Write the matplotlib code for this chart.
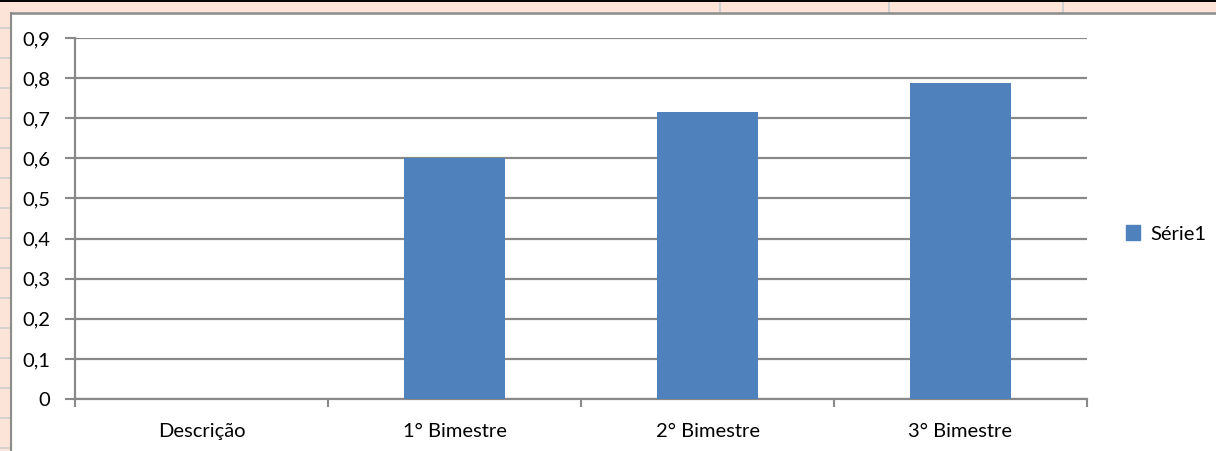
import matplotlib.pyplot as plt
from matplotlib.patches import Rectangle
from matplotlib.lines import Line2D
import numpy as np

# data
categories = ['Descrição', '1° Bimestre', '2° Bimestre', '3° Bimestre']
valores = [0, 0.60, 0.716, 0.789]
yticks = [0, 0.1, 0.2, 0.3, 0.4, 0.5, 0.6, 0.7, 0.8, 0.9]
serie = 'Série1'

W, H = 1216, 451
plt.rcParams['font.family'] = ['Lato', 'DejaVu Sans']
grid_col = '#898989'
bar_col = '#4F81BD'
fs = 14.5

fig = plt.figure(figsize=(W / 100, H / 100), dpi=100)
fig.patch.set_facecolor('white')

# spreadsheet behind the chart (orange strip, cell lines, top black line)
bg = '#FDE4D8'
fig.patches.append(Rectangle((0, 0), 11 / W, 1, transform=fig.transFigure, color=bg, zorder=0))
fig.patches.append(Rectangle((0, 1 - 13 / H), 1, 13 / H, transform=fig.transFigure, color=bg, zorder=0))
for yy in range(28, H, 30):
    fig.add_artist(Line2D([0, 10 / W], [1 - yy / H] * 2, color='#CFCFCF', lw=1.2))
for xx in [720, 889, 1063]:
    fig.add_artist(Line2D([xx / W] * 2, [1 - 12 / H, 1 - 2 / H], color='#D0D0D0', lw=1.5))
fig.add_artist(Line2D([0, 1], [1 - 0.6 / H] * 2, color='black', lw=1.4))
fig.add_artist(Line2D([11 / W, 1], [1 - 12.5 / H] * 2, color='#8C8C8C', lw=1.8))
fig.add_artist(Line2D([10.5 / W] * 2, [0, 1 - 12.5 / H], color='#8C8C8C', lw=1.5))

ax = fig.add_axes([75 / W, 52 / H, (1087 - 75) / W, (399 - 38) / H])
x = np.arange(len(categories))
ax.bar(x, valores, width=0.4, color=bar_col, zorder=3, label=serie)

ax.set_xlim(-0.5, len(categories) - 0.5)
ax.set_ylim(0, 0.9)
ax.set_yticks(yticks)
ax.set_yticklabels([('%g' % v).replace('.', ',') for v in yticks])
ax.yaxis.grid(True, color=grid_col, lw=1.6, zorder=0)
ax.set_axisbelow(True)

ax.set_xticks(x)
ax.set_xticklabels(categories)
ax.set_xticks(np.arange(-0.5, len(categories)), minor=True)
ax.tick_params(axis='x', which='major', length=0, pad=17, labelsize=fs)
ax.tick_params(axis='x', which='minor', length=6, width=1.5, color=grid_col, direction='out')
ax.tick_params(axis='y', length=7, width=1.5, color=grid_col, pad=11, labelsize=fs)

for s in ['top', 'right']:
    ax.spines[s].set_visible(False)
for s in ['left', 'bottom']:
    ax.spines[s].set_color(grid_col)
    ax.spines[s].set_linewidth(1.6)

leg = fig.legend(handles=[Rectangle((0, 0), 1, 1, color=bar_col)], labels=[serie],
                 loc='center left', bbox_to_anchor=(1108 / W, 1 - 234 / H),
                 frameon=False, fontsize=fs, handlelength=0.7, handleheight=0.7,
                 handletextpad=0.5)

fig.savefig('out.png', dpi=100)
